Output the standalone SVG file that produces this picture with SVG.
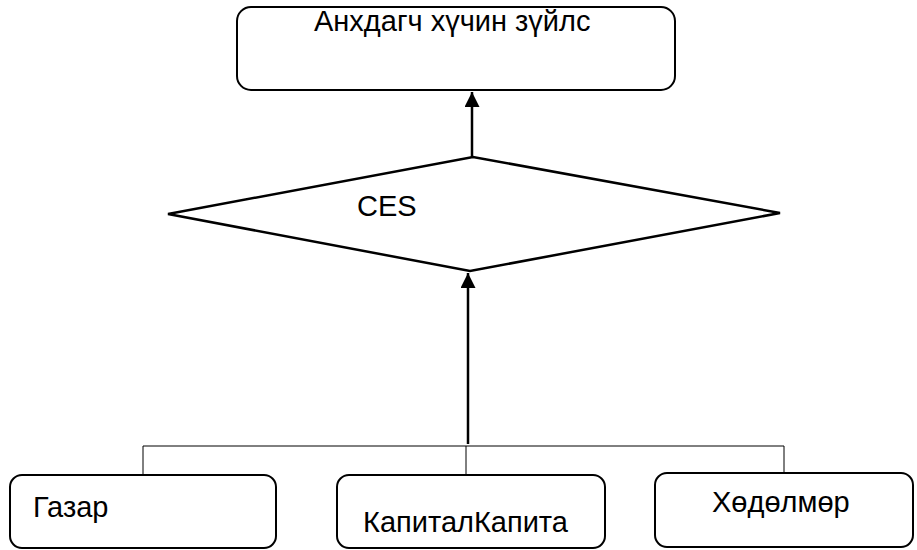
<svg xmlns="http://www.w3.org/2000/svg" width="917" height="550" viewBox="0 0 917 550">
<style>
.box{fill:#fff;stroke:#000;stroke-width:2}
.t{font-family:"Liberation Sans",Arial,sans-serif;font-size:29px;fill:#000}
.thin{stroke:#000;stroke-width:1;fill:none}
.arr{stroke:#000;stroke-width:2.5;fill:none}
</style>
<defs>
<marker id="ah" viewBox="0 0 10 10" refX="10" refY="5" markerWidth="6" markerHeight="6" markerUnits="strokeWidth" orient="auto">
<path d="M0,0 L10,5 L0,10 z" fill="#000"/>
</marker>
</defs>
<g id="node-top">
<rect class="box" x="237" y="7" width="438" height="83" rx="14"/>
<text class="t" x="314" y="31">Анхдагч хүчин зүйлс</text>
</g>
<g id="node-ces">
<polygon points="168,214 473,157 780,213 470,271" fill="#fff" stroke="#000" stroke-width="2.5"/>
<text class="t" x="357" y="216">CES</text>
</g>
<g id="node-gazar">
<rect class="box" x="10" y="475" width="266" height="73" rx="12"/>
<text class="t" x="33" y="517">Газар</text>
</g>
<g id="node-kapital">
<rect class="box" x="337" y="475" width="268" height="73" rx="12"/>
<text class="t" x="363" y="532">КапиталКапита</text>
</g>
<g id="node-hudulmur">
<rect class="box" x="655" y="473" width="258" height="74" rx="12"/>
<text class="t" x="712" y="512">Хөдөлмөр</text>
</g>
<g id="connectors">
<line class="arr" x1="472" y1="157" x2="472" y2="92" marker-end="url(#ah)"/>
<line class="arr" x1="468" y1="444" x2="468" y2="273" marker-end="url(#ah)"/>
<polyline class="thin" points="143,475 143,446 784,446 784,473"/>
<line class="thin" x1="466" y1="446" x2="466" y2="475"/>
</g>
</svg>
